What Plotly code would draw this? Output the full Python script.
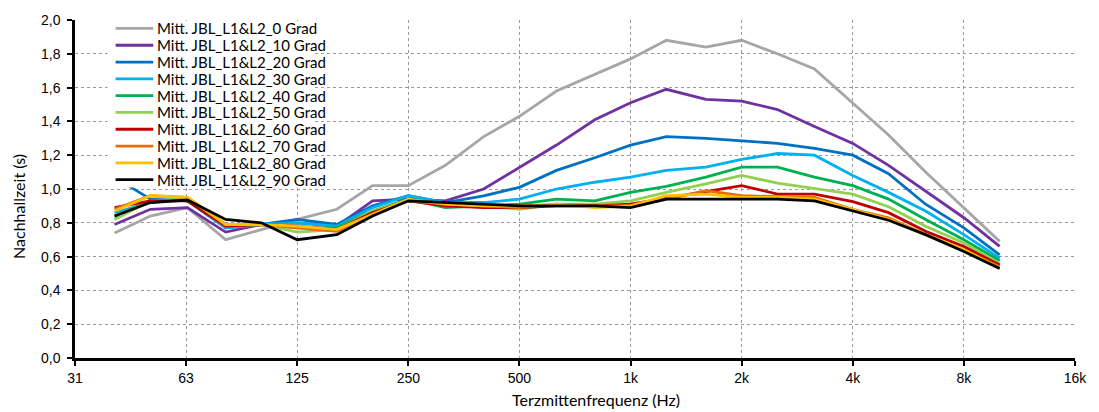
import plotly.graph_objects as go

# Third-octave band centre frequencies (Hz)
freqs = [40, 50, 63, 80, 100, 125, 160, 200, 250, 315, 400, 500, 630, 800,
         1000, 1250, 1600, 2000, 2500, 3150, 4000, 5000, 6300, 8000, 10000]

# Averaged reverberation time (s) per microphone angle
rt_0 = [0.74, 0.84, 0.89, 0.70, 0.76, 0.82, 0.88, 1.02, 1.02, 1.14, 1.31, 1.43, 1.58,
        1.68, 1.77, 1.88, 1.84, 1.88, 1.80, 1.71, 1.51, 1.32, 1.10, 0.89, 0.69]
rt_10 = [0.79, 0.88, 0.89, 0.745, 0.79, 0.80, 0.78, 0.93, 0.94, 0.93, 1.00, 1.13, 1.26,
         1.41, 1.51, 1.59, 1.53, 1.52, 1.47, 1.37, 1.27, 1.14, 0.99, 0.83, 0.66]
rt_20 = [1.07, 0.94, 0.93, 0.77, 0.79, 0.82, 0.79, 0.90, 0.96, 0.92, 0.96, 1.01, 1.11,
         1.185, 1.26, 1.31, 1.30, 1.285, 1.27, 1.24, 1.20, 1.09, 0.91, 0.77, 0.61]
rt_30 = [0.86, 0.92, 0.94, 0.77, 0.79, 0.80, 0.78, 0.89, 0.96, 0.92, 0.92, 0.94, 1.00,
         1.04, 1.07, 1.11, 1.13, 1.175, 1.21, 1.20, 1.08, 0.98, 0.87, 0.73, 0.59]
rt_40 = [0.835, 0.93, 0.94, 0.78, 0.79, 0.77, 0.77, 0.87, 0.94, 0.89, 0.90, 0.91, 0.94,
         0.93, 0.98, 1.015, 1.07, 1.13, 1.13, 1.07, 1.02, 0.94, 0.82, 0.70, 0.575]
rt_50 = [0.82, 0.93, 0.94, 0.78, 0.79, 0.745, 0.76, 0.87, 0.93, 0.91, 0.90, 0.88, 0.91,
         0.91, 0.93, 0.98, 1.03, 1.08, 1.035, 1.005, 0.97, 0.895, 0.78, 0.68, 0.56]
rt_60 = [0.89, 0.93, 0.93, 0.78, 0.79, 0.78, 0.76, 0.86, 0.93, 0.90, 0.89, 0.89, 0.90,
         0.90, 0.91, 0.945, 0.985, 1.02, 0.97, 0.97, 0.925, 0.86, 0.75, 0.66, 0.55]
rt_70 = [0.88, 0.96, 0.95, 0.79, 0.79, 0.77, 0.75, 0.85, 0.93, 0.91, 0.90, 0.89, 0.91,
         0.90, 0.90, 0.94, 0.99, 0.96, 0.955, 0.95, 0.88, 0.83, 0.73, 0.64, 0.54]
rt_80 = [0.87, 0.96, 0.95, 0.79, 0.79, 0.78, 0.76, 0.85, 0.94, 0.91, 0.90, 0.90, 0.91,
         0.89, 0.90, 0.96, 0.97, 0.95, 0.95, 0.94, 0.88, 0.82, 0.73, 0.64, 0.53]
rt_90 = [0.84, 0.92, 0.935, 0.82, 0.80, 0.70, 0.73, 0.84, 0.93, 0.92, 0.91, 0.90, 0.90,
         0.90, 0.89, 0.94, 0.94, 0.94, 0.94, 0.93, 0.87, 0.815, 0.73, 0.63, 0.53]

series_names = [f"Mitt. JBL_L1&L2_{a} Grad" for a in (0, 10, 20, 30, 40, 50, 60, 70, 80, 90)]
series_values = [rt_0, rt_10, rt_20, rt_30, rt_40, rt_50, rt_60, rt_70, rt_80, rt_90]
series_colors = ["#a6a6a6", "#7030a0", "#0070c0", "#00b0f0", "#00b050",
                 "#92d050", "#c00000", "#e46c0a", "#ffc000", "#000000"]

# Octave tick positions and their labels
x_tickvals = [31.25, 62.5, 125, 250, 500, 1000, 2000, 4000, 8000, 16000]
x_ticktext = ["31", "63", "125", "250", "500", "1k", "2k", "4k", "8k", "16k"]
y_tickvals = [0.0, 0.2, 0.4, 0.6, 0.8, 1.0, 1.2, 1.4, 1.6, 1.8, 2.0]

x_title = "Terzmittenfrequenz (Hz)"
y_title = "Nachhallzeit (s)"

W, H = 1099, 412
ML, MR, MT, MB = 75, 14, 17, 54
PW, PH = W - ML - MR, H - MT - MB

LEGEND_FONT = "Lato, Open Sans, sans-serif"
TICK_FONT = "Liberation Sans, Arial, sans-serif"


def px_x(px):
    """Pixel column -> paper x."""
    return (px - ML) / PW


def px_y(py):
    """Pixel row -> paper y."""
    return (MT + PH - py) / PH


fig = go.Figure()
for name, vals, col in zip(series_names, series_values, series_colors):
    fig.add_trace(go.Scatter(
        x=freqs, y=vals, name=name, mode="lines",
        line=dict(color=col, width=2.8),
        showlegend=False,
    ))

# Compact in-plot legend: white panel, line samples and labels
shapes = [dict(type="rect", xref="paper", yref="paper", layer="above",
               x0=px_x(108), x1=px_x(316), y0=px_y(186), y1=px_y(18),
               fillcolor="white", line=dict(width=0))]
annotations = []
row0, row_step = 25.5, 16.95
for i, (name, col) in enumerate(zip(series_names, series_colors)):
    yc = px_y(row0 + i * row_step)
    shapes.append(dict(type="line", xref="paper", yref="paper", layer="above",
                       x0=px_x(116), x1=px_x(154), y0=yc, y1=yc,
                       line=dict(color=col, width=2.8)))
    annotations.append(dict(xref="paper", yref="paper", x=px_x(156), y=yc,
                            xanchor="left", yanchor="middle", showarrow=False,
                            text=name, font=dict(family=LEGEND_FONT, size=15, color="#000")))

# Axis titles
annotations.append(dict(xref="paper", yref="paper", x=px_x(601), y=px_y(400),
                        xanchor="center", yanchor="middle", showarrow=False,
                        text=x_title, font=dict(family=LEGEND_FONT, size=16, color="#000")))
annotations.append(dict(xref="paper", yref="paper", x=px_x(18), y=px_y(205),
                        xanchor="center", yanchor="middle", showarrow=False, textangle=-90,
                        text=y_title, font=dict(family=LEGEND_FONT, size=16, color="#000")))

fig.update_layout(
    width=W, height=H,
    margin=dict(l=ML, r=MR, t=MT, b=MB),
    paper_bgcolor="white", plot_bgcolor="white",
    separators=",.",
    showlegend=False,
    shapes=shapes,
    annotations=annotations,
)

fig.update_xaxes(
    type="log",
    range=[1.49485, 4.20412],
    tickvals=x_tickvals, ticktext=x_ticktext,
    showgrid=True, gridcolor="#9a9a9a", gridwidth=1, griddash="dot",
    showline=True, linecolor="black", linewidth=2.5,
    ticks="outside", ticklen=5, tickwidth=2, tickcolor="black",
    tickfont=dict(family=TICK_FONT, size=14, color="#000"),
    zeroline=False,
)
fig.update_yaxes(
    range=[0, 2.0],
    tickvals=y_tickvals, tickformat=".1f",
    showgrid=True, gridcolor="#9a9a9a", gridwidth=1, griddash="dot",
    showline=True, linecolor="black", linewidth=2.5,
    ticks="outside", ticklen=5, tickwidth=2, tickcolor="black",
    ticklabelstandoff=4,
    tickfont=dict(family=TICK_FONT, size=14, color="#000"),
    zeroline=False,
)

fig.write_html("out.html")
